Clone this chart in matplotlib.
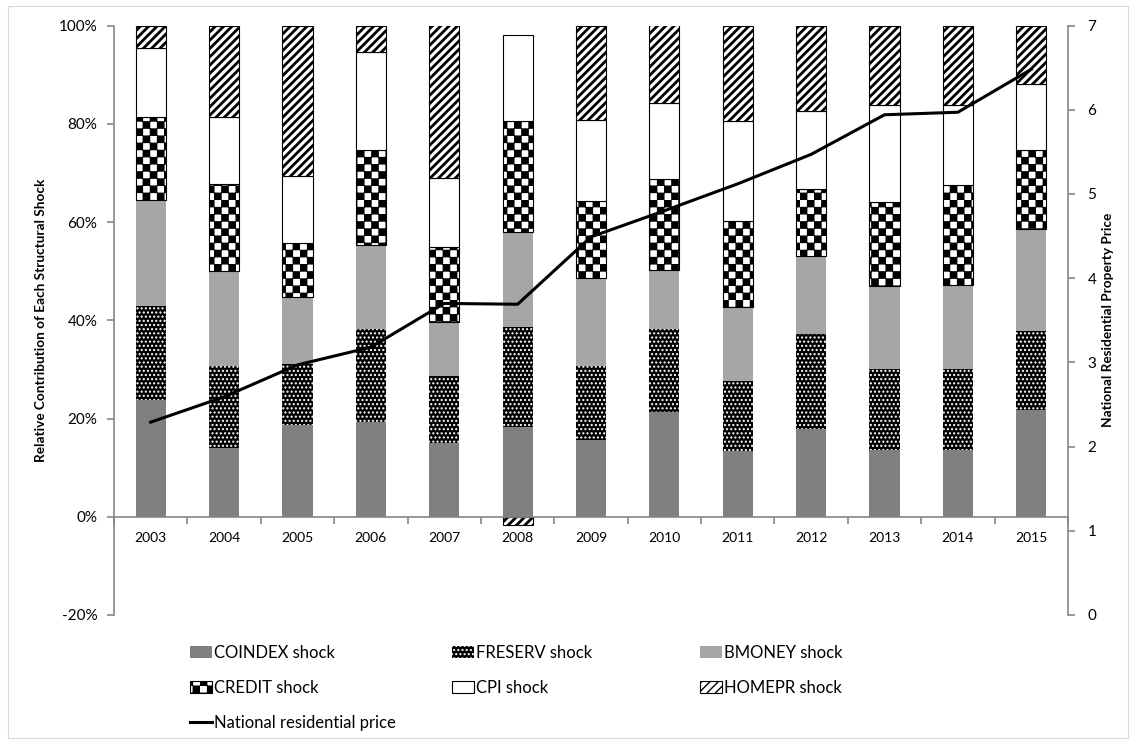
import warnings
import numpy as np
import matplotlib
matplotlib.use("Agg")
import matplotlib.pyplot as plt
from matplotlib import hatch as mhatch
from matplotlib.path import Path
from matplotlib.lines import Line2D
from matplotlib.patches import Patch, Rectangle
from matplotlib.ticker import PercentFormatter, FixedLocator

warnings.filterwarnings("ignore")

years = ["2003", "2004", "2005", "2006", "2007", "2008", "2009",
         "2010", "2011", "2012", "2013", "2014", "2015"]

# relative contribution of each shock (%)
coindex = [23.8, 14.0, 18.7, 19.2, 15.1, 18.2, 15.7, 21.4, 13.4, 17.8, 13.6, 13.6, 21.7]
freserv = [19.1, 16.7, 12.4, 19.0, 13.6, 20.4, 15.0, 16.8, 14.3, 19.5, 16.4, 16.4, 16.2]
bmoney = [21.5, 19.4, 13.6, 17.1, 11.0, 19.4, 17.8, 12.1, 15.0, 15.7, 17.0, 17.1, 20.6]
credit = [17.0, 17.6, 11.1, 19.4, 15.2, 22.5, 15.7, 18.5, 17.5, 13.8, 17.1, 20.5, 16.1]
cpi = [14.0, 13.7, 13.6, 19.9, 14.1, 17.6, 16.5, 15.4, 20.3, 15.7, 19.8, 16.3, 13.5]
homepr = [4.6, 18.6, 30.6, 5.4, 31.4, -1.7, 19.3, 15.8, 19.5, 17.5, 16.1, 16.1, 11.9]

# national residential property price (right axis)
price = [2.29, 2.59, 2.97, 3.18, 3.70, 3.69, 4.49, 4.80, 5.12, 5.47, 5.94, 5.97, 6.48]


# checkerboard fill, registered as hatch character "c"
class CheckerHatch(mhatch.HatchPatternBase):
    def __init__(self, hatch, density):
        self.num_cells = hatch.count("c") * 14
        self.num_vertices = (self.num_cells ** 2 // 2) * 5

    def set_vertices_and_codes(self, vertices, codes):
        n = self.num_cells
        step = 1.0 / n
        square = np.array([[0, 0], [1, 0], [1, 1], [0, 1], [0, 0]]) * step * 0.88 + step * 0.06
        parts = [square + [i * step, j * step]
                 for i in range(n) for j in range(n) if (i + j) % 2 == 0]
        vertices[:] = np.concatenate(parts)
        codes[:] = np.tile([Path.MOVETO, Path.LINETO, Path.LINETO,
                            Path.LINETO, Path.CLOSEPOLY], len(parts))


mhatch._hatch_types.append(CheckerHatch)

plt.rcParams["font.family"] = ["Lato", "DejaVu Sans"]
plt.rcParams["hatch.linewidth"] = 1.0
plt.rcParams["axes.unicode_minus"] = False

series = [
    ("COINDEX shock", coindex, dict(facecolor="#808080", edgecolor="none", linewidth=0), 1.0),
    ("FRESERV shock", freserv, dict(facecolor="black", edgecolor="white", hatch="....", linewidth=0), 1.0),
    ("BMONEY shock", bmoney, dict(facecolor="#a6a6a6", edgecolor="none", linewidth=0), 1.0),
    ("CREDIT shock", credit, dict(facecolor="white", edgecolor="black", hatch="c", linewidth=0.8), 1.0),
    ("CPI shock", cpi, dict(facecolor="white", edgecolor="black", linewidth=0.8), 1.0),
    ("HOMEPR shock", homepr, dict(facecolor="white", edgecolor="black", hatch="////", linewidth=0.8), 2.0),
]

fig = plt.figure(figsize=(11.36, 7.44), dpi=100)
fig.patches.append(Rectangle((8 / 1136, 6 / 744), 1120 / 1136, 732 / 744,
                             transform=fig.transFigure, fill=False,
                             edgecolor="#d9d9d9", linewidth=0.8))

ax = fig.add_axes([114 / 1136, 1 - 615 / 744, 954 / 1136, 589.5 / 744])
x = np.arange(len(years))
pos_bottom = np.zeros(len(years))
neg_bottom = np.zeros(len(years))
handles = {}
for label, vals, style, hlw in series:
    vals = np.array(vals)
    bottom = np.where(vals >= 0, pos_bottom, neg_bottom)
    with plt.rc_context({"hatch.linewidth": hlw}):
        ax.bar(x, vals, 0.41, bottom=bottom, **style, zorder=2)
        handles[label] = Patch(label=label, **style)
    pos_bottom = pos_bottom + np.clip(vals, 0, None)
    neg_bottom = neg_bottom + np.clip(vals, None, 0)

ax.set_xlim(-0.5, len(years) - 0.5)
ax.set_ylim(-20, 100)
ax.yaxis.set_major_formatter(PercentFormatter(decimals=0))
ax.set_yticks(np.arange(-20, 101, 20))
ax.set_xticks(x)
ax.set_xticklabels(years, fontsize=11)
ax.xaxis.set_minor_locator(FixedLocator(np.arange(-0.5, len(years), 1)))

gray = "#868686"
for s in ["top", "right"]:
    ax.spines[s].set_visible(False)
ax.spines["left"].set_color(gray)
ax.spines["left"].set_linewidth(1.2)
ax.spines["bottom"].set_position(("data", 0))
ax.spines["bottom"].set_color(gray)
ax.spines["bottom"].set_linewidth(1.2)
ax.tick_params(axis="x", which="major", length=0, pad=11)
ax.tick_params(axis="x", which="minor", length=5, color=gray, width=1.2, direction="out")
ax.tick_params(axis="y", length=5, color=gray, width=1.2, pad=7, labelsize=11)
ax.set_ylabel("Relative Contribution of Each Structural Shock", fontsize=9.8,
              fontweight="bold", labelpad=8)

ax2 = ax.twinx()
ax2.plot(x, price, color="black", linewidth=2.2, zorder=5,
         label="National residential price")
ax2.set_ylim(0, 7)
ax2.set_yticks(range(0, 8))
for s in ["top", "left", "bottom"]:
    ax2.spines[s].set_visible(False)
ax2.spines["right"].set_color(gray)
ax2.spines["right"].set_linewidth(1.2)
ax2.tick_params(axis="y", length=5, color=gray, width=1.2, pad=9, labelsize=11)
ax2.set_ylabel("National Residential Property Price", fontsize=9.8,
               fontweight="bold", labelpad=4)

line_handle = Line2D([], [], color="black", linewidth=2.2, label="National residential price")

columns = [
    (190, [handles["COINDEX shock"], handles["CREDIT shock"], line_handle]),
    (452, [handles["FRESERV shock"], handles["CPI shock"]]),
    (700, [handles["BMONEY shock"], handles["HOMEPR shock"]]),
]
for xpix, hs in columns:
    fig.legend(handles=hs, loc="upper left",
               bbox_to_anchor=(xpix / 1136, 1 - 645 / 744),
               frameon=False, fontsize=12, handlelength=1.3, handleheight=0.75,
               handletextpad=0.12, labelspacing=1.15, borderpad=0, borderaxespad=0)

fig.savefig("out.png", dpi=100)
